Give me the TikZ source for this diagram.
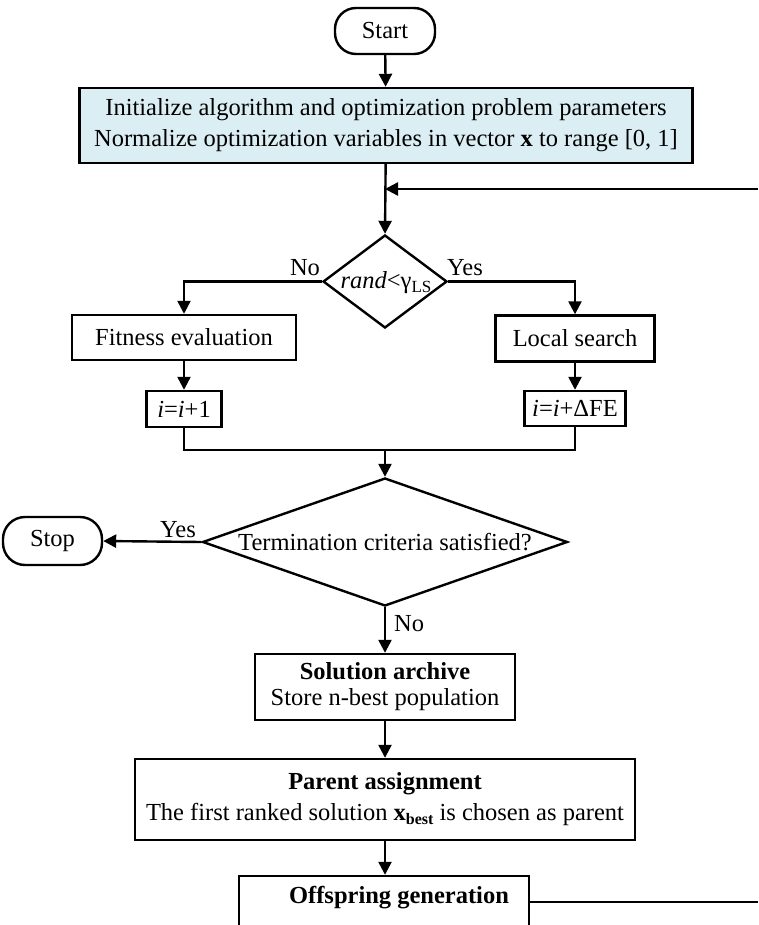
\documentclass[tikz,border=0pt]{standalone}
\usepackage{fontspec}
\setmainfont{Liberation Serif}
\usetikzlibrary{arrows.meta,shapes.geometric,calc}
\definecolor{initblue}{RGB}{219,238,244}
\begin{document}
\begin{tikzpicture}[x=1pt,y=-1pt,
  every node/.style={font=\fontsize{24.5}{31}\selectfont},
  box/.style={draw, line width=2.4pt, rectangle, inner sep=0pt, align=center},
  pill/.style={draw, line width=2.4pt, rectangle, rounded corners=21pt, inner sep=0pt},
  dia/.style={draw, line width=2.4pt, diamond, inner sep=0pt},
  arr/.style={line width=2.4pt, -{Triangle[length=13pt,width=13pt]}},
  conn/.style={line width=2.4pt},
  lbl/.style={anchor=base, inner sep=0pt},
]
\useasboundingbox (0,0) rectangle (758,925);
\clip (0,0) rectangle (758,925);

% nodes
\node[pill, minimum width=100pt, minimum height=46pt] (start) at (385,31) {Start};
\node[box, fill=initblue, minimum width=613pt, minimum height=75pt] (init) at (386,125.5)
  {Initialize algorithm and optimization problem parameters\\
   Normalize optimization variables in vector \textbf{x} to range [0, 1]};
\node[dia, minimum width=124pt, minimum height=93pt] (d1) at (385,281.5) {};
\node[inner sep=0pt] (d1t) at (386,283) {\itshape rand\upshape<γ\raisebox{-4pt}{\fontsize{17}{17}\selectfont LS}};

\node[box, minimum width=224pt, minimum height=45pt] (fit) at (184,337.5) {Fitness evaluation};
\node[box, minimum width=159pt, minimum height=46pt] (ls) at (575,338.5) {Local search};
\node[box, minimum width=75pt, minimum height=36pt] (i1) at (184,409) {\textit{i}=\textit{i}+1};
\node[box, minimum width=101pt, minimum height=35pt] (i2) at (575,408.5) {\textit{i}=\textit{i}+ΔFE};
\coordinate (j) at (385,450);

\node[dia, minimum width=365pt, minimum height=128pt] (d2) at (385,542) {};
\node[inner sep=0pt] (d2t) at (385,542) {Termination criteria satisfied?};
\node[pill, minimum width=99pt, minimum height=48pt, rounded corners=22pt] (stop) at (52.5,541) {Stop};

\node[box, minimum width=260pt, minimum height=66pt] (sol) at (385,687)
  {\textbf{Solution archive}\\[-5pt] Store n-best population};
\node[box, minimum width=500pt, minimum height=81pt] (par) at (385,799.5)
  {\textbf{Parent assignment}\\
   The first ranked solution \textbf{x}\raisebox{-4pt}{\fontsize{16}{16}\selectfont\bfseries best} is chosen as parent};
\node[box, minimum width=290pt, minimum height=120pt] (off) at (384,936) {};
\node[lbl, font=\fontsize{24.5}{31}\selectfont\bfseries] (offt) at (399,903) {Offspring generation};

\coordinate (loopR) at (758,189);
\coordinate (offR) at (758,902);

% labels
\node[lbl] (no1) at (305,275) {No};
\node[lbl] (yes1) at (465,275) {Yes};
\node[lbl] (yes2) at (178,537) {Yes};
\node[lbl, anchor=base west] (no2) at (394,631) {No};

% connectors
\draw[arr] (start) -- (init);
\draw[arr] (init) -- (d1.north);
\draw[arr] (loopR) -- (loopR -| d1.north);
\draw[arr] (d1.west) -| (fit.north);
\draw[arr] (d1.east) -| (ls.north);
\draw[arr] (fit) -- (i1);
\draw[arr] (ls) -- (i2);
\draw[conn] (i1.south) |- (j);
\draw[conn] (i2.south) |- (j);
\draw[arr] (j) -- (d2.north);
\draw[arr] (d2.west) -- (stop.east);
\draw[arr] (d2.south) -- (sol.north);
\draw[arr] (sol) -- (par);
\draw[arr] (par.south) -- (par.south |- off.north);
\draw[conn] (off.east |- offR) -- (offR);
\end{tikzpicture}
\end{document}
